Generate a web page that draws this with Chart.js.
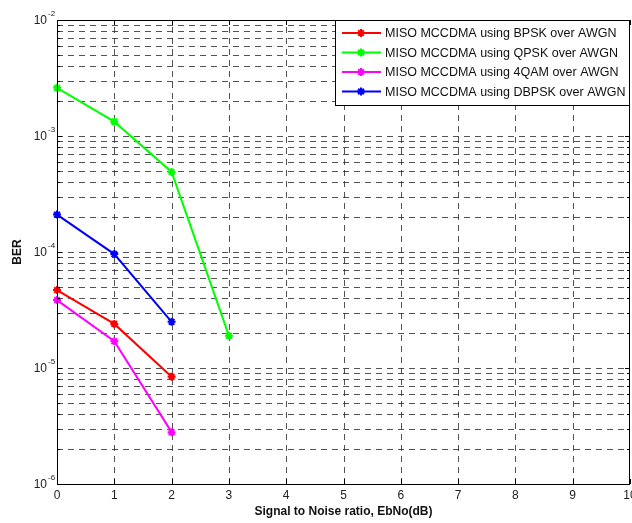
<!DOCTYPE html>
<html>
<head>
<meta charset="utf-8">
<script src="https://cdn.jsdelivr.net/npm/chart.js@4.4.1/dist/chart.umd.min.js"></script>
<style>
  html, body { margin: 0; padding: 0; background: #fff; }
  #wrap { width: 632px; height: 523px; }
</style>
</head>
<body>
<div id="wrap"><canvas id="berChart" width="632" height="523"></canvas></div>
<script>
const snr = [0, 1, 2, 3]
const bpsk = [4.7e-5, 2.4e-5, 8.4e-6]
const qpsk = [2.6e-3, 1.33e-3, 4.9e-4, 1.9e-5]
const qam4 = [3.85e-5, 1.7e-5, 2.8e-6]
const dbpsk = [2.1e-4, 9.6e-5, 2.5e-5]
const xTicks = [0, 1, 2, 3, 4, 5, 6, 7, 8, 9, 10]
const yExps = [-6, -5, -4, -3, -2]

const FONT = "'Liberation Sans', Arial, Helvetica, sans-serif"

const series = [
  { label: 'MISO MCCDMA using BPSK over AWGN', data: bpsk, color: '#ff0000' },
  { label: 'MISO MCCDMA using QPSK over AWGN', data: qpsk, color: '#00ff00' },
  { label: 'MISO MCCDMA using 4QAM over AWGN', data: qam4, color: '#ff00ff' },
  { label: 'MISO MCCDMA using DBPSK over AWGN', data: dbpsk, color: '#0000ff' }
]

// y ticks at every 1..9 multiple of each decade
const yTickValues = []
yExps.forEach((e, i) => {
  for (let m = 1; m <= 9; m++) {
    if (i === yExps.length - 1 && m > 1) break
    yTickValues.push(m * Math.pow(10, e))
  }
})

// dashed matlab style grid, drawn from the scale ticks
const gridPlugin = {
  id: 'dashGrid',
  beforeDatasetsDraw(chart) {
    const { ctx, chartArea: a, scales } = chart
    ctx.save()
    ctx.strokeStyle = 'rgba(40,40,40,0.8)'
    ctx.lineWidth = 1
    ctx.setLineDash([6, 5])
    ctx.beginPath()
    scales.x.ticks.forEach(t => {
      const x = Math.round(scales.x.getPixelForValue(t.value)) + 0.5
      if (x < a.left + 1 || x > a.right - 1) return
      ctx.moveTo(x, a.bottom); ctx.lineTo(x, a.top)
    })
    scales.y.ticks.forEach(t => {
      const y = Math.round(scales.y.getPixelForValue(t.value)) + 0.5
      if (y < a.top + 1 || y > a.bottom - 1) return
      ctx.moveTo(a.left, y); ctx.lineTo(a.right, y)
    })
    ctx.stroke()
    ctx.restore()
  }
}

// frame, inward ticks and tick labels
const framePlugin = {
  id: 'frame',
  afterDraw(chart) {
    const { ctx, chartArea: a, scales } = chart
    ctx.save()
    ctx.strokeStyle = '#000'
    ctx.lineWidth = 1
    ctx.setLineDash([])
    ctx.beginPath()
    xTicks.forEach(v => {
      const x = Math.round(scales.x.getPixelForValue(v)) + 0.5
      ctx.moveTo(x, a.bottom); ctx.lineTo(x, a.bottom - 5)
      ctx.moveTo(x, a.top); ctx.lineTo(x, a.top + 5)
    })
    yTickValues.forEach(v => {
      const y = Math.round(scales.y.getPixelForValue(v)) + 0.5
      const len = Math.abs(Math.log10(v) - Math.round(Math.log10(v))) < 1e-9 ? 5 : 3
      ctx.moveTo(a.left, y); ctx.lineTo(a.left + len, y)
      ctx.moveTo(a.right, y); ctx.lineTo(a.right - len, y)
    })
    ctx.stroke()
    ctx.strokeRect(Math.round(a.left) + 0.5, Math.round(a.top) + 0.5,
      Math.round(a.right - a.left) - 1, Math.round(a.bottom - a.top))

    ctx.fillStyle = '#222'
    ctx.font = '12px ' + FONT
    ctx.textAlign = 'center'
    ctx.textBaseline = 'middle'
    xTicks.forEach(v => {
      ctx.fillText(String(v), scales.x.getPixelForValue(v), a.bottom + 12)
    })
    yExps.forEach(e => {
      const y = scales.y.getPixelForValue(Math.pow(10, e))
      ctx.font = '12px ' + FONT
      ctx.textAlign = 'right'
      ctx.fillText('10', a.left - 10, y + 1)
      ctx.font = '8px ' + FONT
      ctx.textAlign = 'left'
      ctx.fillText(String(e), a.left - 9, y - 6)
    })
    ctx.restore()
  }
}

// legend box in the top right corner of the plot
const legendPlugin = {
  id: 'boxLegend',
  afterDraw(chart) {
    const { ctx, chartArea: a } = chart
    const w = 295, h = 85
    const left = a.right - w, top = a.top
    ctx.save()
    ctx.fillStyle = '#fff'
    ctx.fillRect(left, top, w, h)
    ctx.strokeStyle = '#000'
    ctx.lineWidth = 1
    ctx.strokeRect(Math.round(left) + 0.5, Math.round(top) + 0.5, w - 1, h)
    chart.data.datasets.forEach((ds, i) => {
      const y = top + 13 + i * 19.5
      ctx.strokeStyle = ds.borderColor
      ctx.lineWidth = 2
      ctx.beginPath()
      ctx.moveTo(left + 7, y); ctx.lineTo(left + 46, y)
      ctx.stroke()
      Chart.helpers.drawPoint(ctx, { pointStyle: 'star', radius: 4, borderWidth: 2 }, left + 26, y)
      ctx.fillStyle = '#111'
      ctx.font = '12.5px ' + FONT
      ctx.textAlign = 'left'
      ctx.textBaseline = 'middle'
      ctx.fillText(ds.label, left + 50, y + 1)
    })
    ctx.restore()
  }
}

const ctx = document.getElementById('berChart').getContext('2d')
const chart = new Chart(ctx, {
  type: 'line',
  data: {
    labels: snr,
    datasets: series.map(s => ({
      label: s.label,
      data: s.data.map((v, i) => ({ x: snr[i], y: v })),
      borderColor: s.color,
      backgroundColor: s.color,
      borderWidth: 2,
      pointStyle: 'star',
      pointRadius: 4,
      pointBorderWidth: 2,
      tension: 0,
      clip: false
    }))
  },
  options: {
    responsive: false,
    animation: false,
    layout: { autoPadding: false, padding: { top: 20, right: 2, left: 0, bottom: 0 } },
    plugins: {
      legend: { display: false },
      tooltip: { enabled: false }
    },
    scales: {
      x: {
        type: 'linear',
        min: 0,
        max: 10,
        afterBuildTicks: s => { s.ticks = xTicks.map(v => ({ value: v })) },
        afterFit: s => { s.height = 39 },
        grid: { display: false },
        border: { display: false },
        ticks: { display: false },
        title: {
          display: true,
          text: 'Signal to Noise ratio, EbNo(dB)',
          color: '#111',
          padding: { top: 0, bottom: 4 },
          font: { family: FONT, size: 12, weight: 'bold' }
        }
      },
      y: {
        type: 'logarithmic',
        min: 1e-6,
        max: 1e-2,
        afterBuildTicks: s => { s.ticks = yTickValues.map(v => ({ value: v })) },
        afterFit: s => { s.width = 57 },
        grid: { display: false },
        border: { display: false },
        ticks: { display: false },
        title: {
          display: true,
          text: 'BER',
          color: '#111',
          padding: { top: 10, bottom: 0 },
          font: { family: FONT, size: 12, weight: 'bold' }
        }
      }
    }
  },
  plugins: [gridPlugin, framePlugin, legendPlugin]
})
</script>
</body>
</html>
